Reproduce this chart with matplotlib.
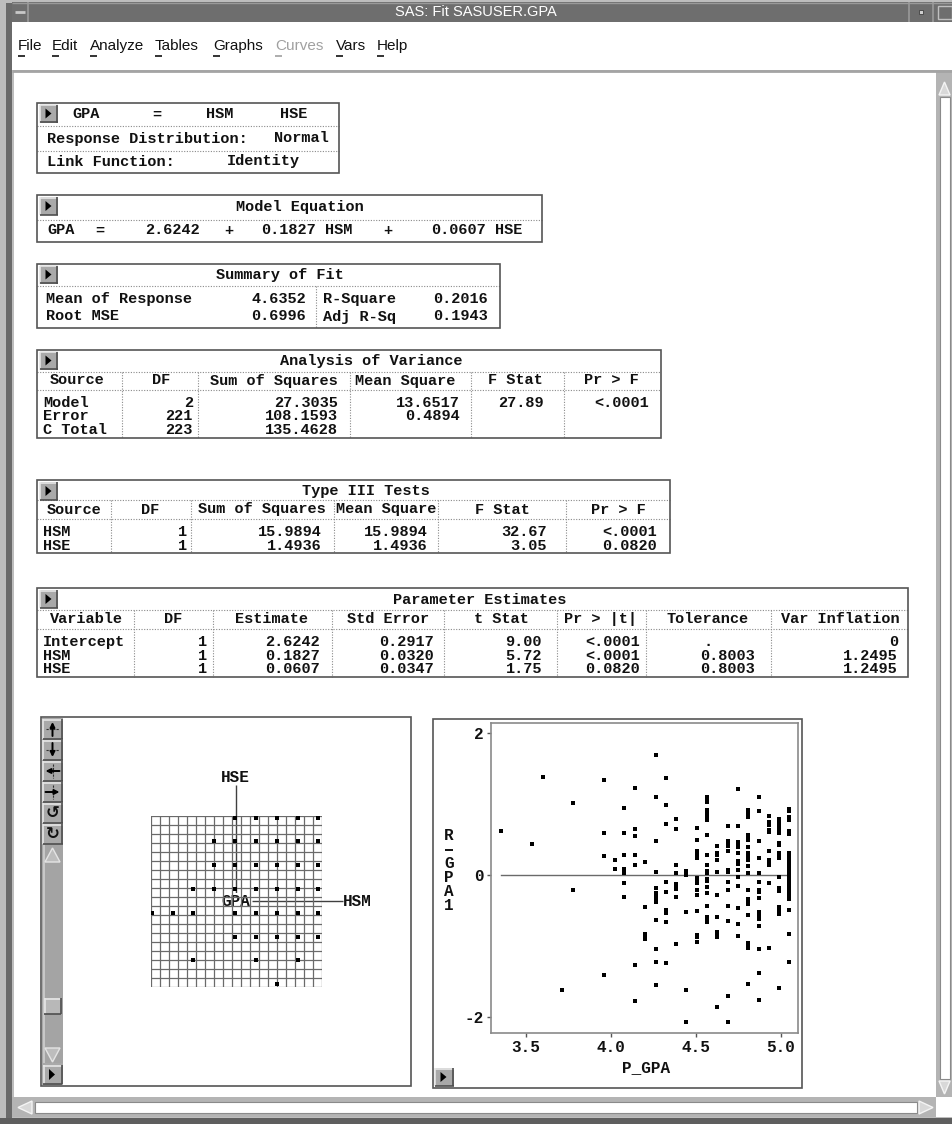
import matplotlib
matplotlib.use("Agg")
import matplotlib.pyplot as plt
from matplotlib.patches import Rectangle, Polygon

W, H = 952, 1124
MONO = "Liberation Mono"
SANS = "Liberation Sans"
FS = 11.0
INK = "#111111"

plt.rcParams["font.family"] = [MONO, "DejaVu Sans Mono"]
plt.rcParams["font.weight"] = "bold"

# ---- window text ----
window_title = "SAS: Fit SASUSER.GPA"
menu_items = ["File", "Edit", "Analyze", "Tables", "Graphs", "Curves", "Vars", "Help"]
menu_disabled = ["Curves"]

# ---- fit tables ----
model_terms = ["GPA", "=", "HSM", "HSE"]
dist_label, dist_value = "Response Distribution:", "Normal"
link_label, link_value = "Link Function:", "Identity"
equation = ["GPA", "=", "2.6242", "+", "0.1827", "HSM", "+", "0.0607", "HSE"]
fit_left = [("Mean of Response", "4.6352"), ("Root MSE", "0.6996")]
fit_right = [("R-Square", "0.2016"), ("Adj R-Sq", "0.1943")]

anova_cols = ["Source", "DF", "Sum of Squares", "Mean Square", "F Stat", "Pr > F"]
anova_rows = [
    ["Model", "2", "27.3035", "13.6517", "27.89", "<.0001"],
    ["Error", "221", "108.1593", "0.4894", "", ""],
    ["C Total", "223", "135.4628", "", "", ""],
]
type3_cols = ["Source", "DF", "Sum of Squares", "Mean Square", "F Stat", "Pr > F"]
type3_rows = [
    ["HSM", "1", "15.9894", "15.9894", "32.67", "<.0001"],
    ["HSE", "1", "1.4936", "1.4936", "3.05", "0.0820"],
]
param_cols = ["Variable", "DF", "Estimate", "Std Error", "t Stat", "Pr > |t|",
              "Tolerance", "Var Inflation"]
param_rows = [
    ["Intercept", "1", "2.6242", "0.2917", "9.00", "<.0001", ".", "0"],
    ["HSM", "1", "0.1827", "0.0320", "5.72", "<.0001", "0.8003", "1.2495"],
    ["HSE", "1", "0.0607", "0.0347", "1.75", "0.0820", "0.8003", "1.2495"],
]

# ---- rotating plot: HSM values present at each HSE level ----
hse_levels = [10, 9, 8, 7, 6, 5, 4, 3]
hsm_at_hse = [
    [6, 7, 8, 9, 10],
    [5, 6, 7, 8, 9, 10],
    [5, 6, 7, 8, 9, 10],
    [4, 5, 6, 7, 8, 9, 10],
    [2, 3, 4, 6, 7, 8, 9, 10],
    [6, 7, 8, 9, 10],
    [4, 7, 9],
    [8],
]

# ---- residual plot: residuals at each predicted GPA ----
pred_levels = [3.355, 3.537, 3.600, 3.716, 3.778, 3.959, 4.024, 4.078, 4.141,
               4.204, 4.265, 4.327, 4.384, 4.445, 4.506, 4.569, 4.627, 4.690,
               4.751, 4.810, 4.871, 4.933, 4.992, 5.049]
resid_at_pred = [
    [0.62],
    [0.44],
    [1.385],
    [-1.62],
    [1.02, -0.21],
    [1.35, 0.60, 0.27, -1.41],
    [0.22, 0.09],
    [0.95, 0.59, 0.28, 0.09, 0.06, 0.03, -0.11, -0.30],
    [1.23, 0.65, 0.55, 0.29, 0.15, -1.26, -1.77],
    [0.19, -0.44, -0.82, -0.86, -0.90],
    [1.70, 1.10, 0.49, 0.05, -0.18, -0.25, -0.28, -0.33, -0.37, -0.63, -1.04,
     -1.22, -1.54],
    [1.37, 0.99, 0.72, -0.09, -0.23, -0.49, -0.53, -0.66, -1.24],
    [0.80, 0.65, 0.14, 0.03, -0.12, -0.15, -0.19, -0.30, -0.96],
    [0.06, 0.03, 0.00, -0.52, -1.62, -2.07],
    [0.67, 0.50, 0.34, 0.31, 0.27, 0.24, -0.04, -0.07, -0.11, -0.20, -0.28,
     -0.50, -0.84, -0.87, -0.94],
    [1.10, 1.07, 1.04, 0.92, 0.88, 0.82, 0.78, 0.57, 0.28, 0.15, 0.06, 0.03,
     -0.05, -0.08, -0.17, -0.25, -0.43, -0.59, -0.62, -0.66],
    [0.42, 0.31, 0.29, 0.22, 0.05, -0.27, -0.59, -0.80, -0.84, -0.87, -1.85],
    [0.69, 0.49, 0.45, 0.42, 0.34, 0.08, 0.05, -0.09, -0.21, -0.43, -0.64,
     -1.70, -2.07],
    [1.22, 0.69, 0.47, 0.43, 0.40, 0.31, 0.20, 0.16, 0.08, -0.03, -0.15, -0.46,
     -0.69, -0.86],
    [0.92, 0.88, 0.82, 0.57, 0.54, 0.50, 0.40, 0.31, 0.28, 0.25, 0.22, 0.13,
     0.03, -0.21, -0.34, -0.38, -0.41, -0.56, -0.95, -0.99, -1.02, -1.53],
    [1.10, 0.91, 0.49, 0.24, 0.04, -0.10, -0.20, -0.23, -0.32, -0.51, -0.54,
     -0.60, -0.62, -0.72, -1.04, -1.38, -1.75],
    [0.84, 0.75, 0.71, 0.64, 0.61, 0.35, 0.22, 0.19, 0.15, -0.11, -1.02],
    [0.80, 0.77, 0.73, 0.70, 0.66, 0.63, 0.60, 0.46, 0.43, 0.32, 0.29, 0.25,
     -0.03, -0.18, -0.22, -0.44, -0.47, -0.51, -0.54, -1.59],
    [0.93, 0.90, 0.82, 0.78, 0.62, 0.58, 0.32, 0.29, 0.25, 0.22, 0.18, 0.15,
     0.12, 0.08, 0.05, 0.01, -0.02, -0.06, -0.09, -0.13, -0.16, -0.20, -0.23,
     -0.27, -0.30, -0.34, -0.49, -0.82, -1.22],
]
x_ticks = [3.5, 4.0, 4.5, 5.0]
y_ticks = [-2, 0, 2]


fig = plt.figure(figsize=(W / 100, H / 100), dpi=100)
bg = fig.add_axes([0, 0, 1, 1])
bg.set_xlim(0, W)
bg.set_ylim(H, 0)
bg.axis("off")


def px_axes(x0, y0, x1, y1):
    return fig.add_axes([x0 / W, 1 - y1 / H, (x1 - x0) / W, (y1 - y0) / H])


def rect(x0, y0, x1, y1, fc="none", ec="none", lw=1.0, z=1):
    bg.add_patch(Rectangle((x0, y0), x1 - x0, y1 - y0, fc=fc, ec=ec, lw=lw, zorder=z))


def line(xs, ys, color="#606060", lw=1.0, ls="-", z=2):
    bg.plot(xs, ys, color=color, lw=lw, ls=ls, zorder=z, solid_capstyle="butt")


def put(x, y, s, ha="left", size=FS, color=INK, family=None, weight="bold", z=5, **kw):
    bg.text(x, y, s, ha=ha, va="center", fontsize=size, color=color,
            family=family or [MONO, "DejaVu Sans Mono"], fontweight=weight,
            zorder=z, **kw)


def bevel(x0, y0, x1, y1, fc="#a9a9a9", light="#e6e6e6", dark="#4e4e4e"):
    rect(x0, y0, x1, y1, fc=fc, z=3)
    line([x0, x1], [y0 + 0.5, y0 + 0.5], light, 1.2, z=4)
    line([x0 + 0.5, x0 + 0.5], [y0, y1], light, 1.2, z=4)
    line([x0, x1], [y1 - 0.5, y1 - 0.5], dark, 1.2, z=4)
    line([x1 - 0.5, x1 - 0.5], [y0, y1], dark, 1.2, z=4)


def play_button(x, y, w=18, h=18):
    bevel(x, y, x + w, y + h)
    bg.add_patch(Polygon([(x + 6, y + 4), (x + 6, y + h - 4), (x + 12, y + h / 2)],
                         closed=True, fc="black", ec="none", zorder=5))


def dotted_h(x0, x1, y):
    line([x0, x1], [y, y], "#8a8a8a", 0.8, (0, (1, 1.4)))


def dotted_v(x, y0, y1):
    line([x, x], [y0, y1], "#8a8a8a", 0.8, (0, (1, 1.4)))


def box(x0, y0, x1, y1):
    rect(x0, y0, x1, y1, ec="#555555", lw=1.2, z=4)


# ---- window chrome ----
rect(0, 0, W, H, fc="#bdbdbd", z=0)
rect(6, 3, 12, H, fc="#6a6a6a", z=0)
rect(12, 2, W, 22, fc="#6e6e6e", z=1)
line([12, W], [2.5, 2.5], "#9a9a9a", 1.0)
line([28, 28], [2, 22], "#9a9a9a", 1.2)
line([909, 909], [2, 22], "#9a9a9a", 1.2)
line([933, 933], [2, 22], "#9a9a9a", 1.2)
line([15, 25], [12, 12], "#c8c8c8", 2.0)
rect(919, 10, 923, 14, fc="#d0d0d0", ec="#404040", lw=0.6, z=3)
rect(938, 6, 952, 19, ec="#c0c0c0", lw=1.0, z=3)
put(476, 12.5, window_title, ha="center", size=10.5, color="white",
    family=SANS, weight="normal")

rect(12, 22, W, 70, fc="white", z=1)
line([12, W], [71, 71], "#a4a4a4", 2.0)
menu_x = [18, 52, 90, 155, 213, 275, 336, 377]
for mx, item in zip(menu_x, menu_items):
    col = "#a0a0a0" if item in menu_disabled else INK
    bg.text(mx, 46, item, ha="left", va="center", fontsize=11, color=col,
            family=SANS, fontweight="normal", zorder=5)
    line([mx, mx + 7], [55.5, 55.5], col, 1.2)

# content area and scroll bars
rect(14, 72, 936, 1097, fc="white", z=1)
rect(936, 72, W, 1097, fc="#b4b4b4", z=1)
rect(940, 97, 950, 1079, fc="white", ec="#8a8a8a", lw=0.8, z=2)
bg.add_patch(Polygon([(939, 95), (950, 95), (944.5, 82)], closed=True,
                     fc="#d8d8d8", ec="#f4f4f4", lw=1, zorder=3))
bg.add_patch(Polygon([(939, 1081), (950, 1081), (944.5, 1094)], closed=True,
                     fc="#d8d8d8", ec="#f4f4f4", lw=1, zorder=3))
rect(12, 1097, 936, 1117, fc="#b4b4b4", z=1)
rect(35, 1102, 917, 1113, fc="white", ec="#8a8a8a", lw=0.8, z=2)
bg.add_patch(Polygon([(32, 1101), (32, 1114), (18, 1107.5)], closed=True,
                     fc="#d8d8d8", ec="#f4f4f4", lw=1, zorder=3))
bg.add_patch(Polygon([(919, 1101), (919, 1114), (933, 1107.5)], closed=True,
                     fc="#d8d8d8", ec="#f4f4f4", lw=1, zorder=3))
rect(936, 1097, W, 1117, fc="white", z=1)
rect(0, 1118, W, H, fc="#5e5e5e", z=1)

# ---- model specification ----
XL = 37
box(XL, 102.5, 339, 172.5)
play_button(39.5, 104.5)
dotted_h(XL, 339, 125.5)
dotted_h(XL, 339, 151)
put(72, 114.5, model_terms[0])
put(157, 114.5, model_terms[1], ha="center")
put(220, 114.5, model_terms[2], ha="center")
put(294, 114.5, model_terms[3], ha="center")
put(47, 138.5, dist_label)
put(329, 138.5, dist_value, ha="right")
put(47, 161.5, link_label)
put(263, 161.5, link_value, ha="center")

# ---- model equation ----
box(XL, 195, 542, 241.5)
play_button(39.5, 197)
dotted_h(XL, 542, 220)
put(300, 207.5, "Model Equation", ha="center")
eq_pos = [(47, "left"), (100, "center"), (200, "right"), (229, "center"),
          (316, "right"), (325, "left"), (388, "center"), (486, "right"),
          (495, "left")]
for (ex, ea), tok in zip(eq_pos, equation):
    put(ex, 230.5, tok, ha=ea)

# ---- summary of fit ----
box(XL, 263.5, 500, 328)
play_button(39.5, 265.5)
dotted_h(XL, 500, 285.5)
put(280, 274.5, "Summary of Fit", ha="center")
dotted_v(315.5, 285.5, 328)
for i, ((la, va_), (lb, vb)) in enumerate(zip(fit_left, fit_right)):
    yy = 299 + i * 17.5
    put(46, yy, la)
    put(306, yy, va_, ha="right")
    put(323, yy, lb)
    put(488, yy, vb, ha="right")


def column_table(edges, ys, title, title_x, cols, col_x, rows, val_right, dot_x=None):
    """ys = (top, title, div1, heading, div2, first row, row step, bottom)."""
    y_top, y_title, y_d1, y_head, y_d2, y_row, step, y_bot = ys
    xa, xb = edges[0], edges[-1]
    box(xa, y_top, xb, y_bot)
    play_button(xa + 2.5, y_top + 2)
    dotted_h(xa, xb, y_d1)
    dotted_h(xa, xb, y_d2)
    for e in edges[1:-1]:
        dotted_v(e, y_d1, y_bot)
    put(title_x, y_title, title, ha="center")
    for cx, c in zip(col_x, cols):
        put(cx, y_head, c, ha="center")
    for r, row in enumerate(rows):
        yy = y_row + r * step
        for i, v in enumerate(row):
            if not v:
                continue
            if i == 0:
                put(xa + 6, yy, v)
            elif v == ".":
                put(dot_x, yy, v, ha="center")
            else:
                put(val_right[i], yy, v, ha="right")


column_table([37, 122, 198, 350, 471, 564, 661],
             (349.5, 361, 371.5, 380.5, 390, 403, 13.5, 438),
             "Analysis of Variance", 371, anova_cols,
             [77, 161, 274, 405, 515, 611], anova_rows,
             [None, 193, 338, 460, 544, 649])
column_table([37, 111, 191, 334, 438, 566, 670],
             (480, 491, 500, 509.5, 519, 532, 13.5, 553),
             "Type III Tests", 366, type3_cols,
             [74, 150, 262, 386, 502, 618], type3_rows,
             [None, 187, 322, 428, 547, 657])
column_table([37, 134, 213, 332, 444, 557, 646, 771, 908],
             (588, 600, 610, 619, 629, 642, 13.5, 677),
             "Parameter Estimates", 480, param_cols,
             [86, 173, 272, 388, 501, 601, 708, 840], param_rows,
             [None, 207, 320, 434, 542, 640, 755, 898], dot_x=708)

# ---- rotating plot panel ----
box(40.5, 716.5, 410.5, 1086)
rect(42, 718, 63, 1085, fc="#a9a9a9", z=2)
icons = ["up", "down", "left", "right", "ccw", "cw"]
for i, ic in enumerate(icons):
    by = 719 + i * 21
    bevel(42.5, by, 62.5, by + 20)
    cx, cy = 52.5, by + 10
    if ic in ("up", "down"):
        line([46, 59], [cy, cy], "#303030", 0.8, (0, (2, 1)), z=5)
        d = -1 if ic == "up" else 1
        bg.annotate("", xy=(cx, cy + 7 * d), xytext=(cx, cy - 7 * d), zorder=6,
                    arrowprops=dict(arrowstyle="-|>", color="black", lw=1.4,
                                    mutation_scale=7, shrinkA=0, shrinkB=0))
    elif ic in ("left", "right"):
        line([cx, cx], [cy - 7, cy + 7], "#303030", 0.8, (0, (2, 1)), z=5)
        d = -1 if ic == "left" else 1
        bg.annotate("", xy=(cx + 7 * d, cy), xytext=(cx - 7 * d, cy), zorder=6,
                    arrowprops=dict(arrowstyle="-|>", color="black", lw=1.4,
                                    mutation_scale=7, shrinkA=0, shrinkB=0))
    else:
        put(cx, cy, "\u21ba" if ic == "ccw" else "\u21bb", ha="center", size=12,
            family="DejaVu Sans", z=6)
rect(42.5, 845, 62.5, 1063, fc="#a4a4a4", z=3)
line([44, 44], [845, 1063], "#d0d0d0", 1.2, z=4)
bg.add_patch(Polygon([(45, 862), (60, 862), (52.5, 848)], closed=True,
                     fc="#bdbdbd", ec="#e4e4e4", lw=1, zorder=4))
bevel(44, 998, 61, 1014, fc="#b8b8b8")
bg.add_patch(Polygon([(45, 1048), (60, 1048), (52.5, 1062)], closed=True,
                     fc="#bdbdbd", ec="#e4e4e4", lw=1, zorder=4))
play_button(43, 1065, w=19, h=19)

# the HSM x HSE face of the rotating cloud, drawn over its backing mesh
rot = px_axes(150.5, 815.5, 321.5, 986.5)
rot.set_xlim(1.942, 10.152)
rot.set_ylim(2.896, 10.093)
rot.axis("off")
for k in range(20):
    rot.plot([k / 19, k / 19], [0, 1], transform=rot.transAxes, color="#6a6a6a", lw=0.9)
    rot.plot([0, 1], [k / 19, k / 19], transform=rot.transAxes, color="#6a6a6a", lw=0.9)
for hse, hsm_vals in zip(hse_levels, hsm_at_hse):
    rot.plot(hsm_vals, [hse] * len(hsm_vals), "s", color="black", ms=2.8, mew=0)

line([235.7, 235.7], [785, 894], "#404040", 1.0, z=6)
line([252, 343], [900.7, 900.7], "#404040", 1.0, z=6)
put(235.7, 778, "HSE", ha="center", size=11.5, z=7)
put(235.5, 901, "GPA", ha="center", size=11.5, z=7,
    bbox=dict(fc="white", ec="none", pad=0.6))
put(357, 901, "HSM", ha="center", size=11.5, z=7)

# ---- residual by predicted panel ----
box(432.5, 719, 801.5, 1088)
play_button(434.5, 1068, w=19, h=18)

ax = px_axes(490.7, 722.7, 797.7, 1032.7)
ax.set_xlim(3.294, 5.10)
ax.set_ylim(-2.216, 2.15)
for s in ax.spines.values():
    s.set_color("#8a8a8a")
    s.set_linewidth(1.2)
ax.plot([min(pred_levels), max(pred_levels)], [0, 0], color="#6a6a6a", lw=1.0)
for p, rs in zip(pred_levels, resid_at_pred):
    ax.plot([p] * len(rs), rs, "s", color="black", ms=3.3, mew=0)
ax.set_xticks(x_ticks)
ax.set_xticklabels([f"{v:.1f}" for v in x_ticks])
ax.set_yticks(y_ticks)
ax.set_yticklabels([str(v) for v in y_ticks])
ax.tick_params(direction="out", length=3, width=1, color="#555555", pad=2,
               labelsize=11.5, labelcolor=INK)
ax.set_facecolor("white")

put(645.7, 1068, "P_GPA", ha="center", size=11.5)
for ch, yy in zip(["R", "G", "P", "A", "1"], [836, 864, 878, 892, 906]):
    put(449, yy, ch, ha="center", size=11.5)
line([445, 453], [850, 850], INK, 1.4, z=5)

fig.savefig("out.png", dpi=100, facecolor="white")
